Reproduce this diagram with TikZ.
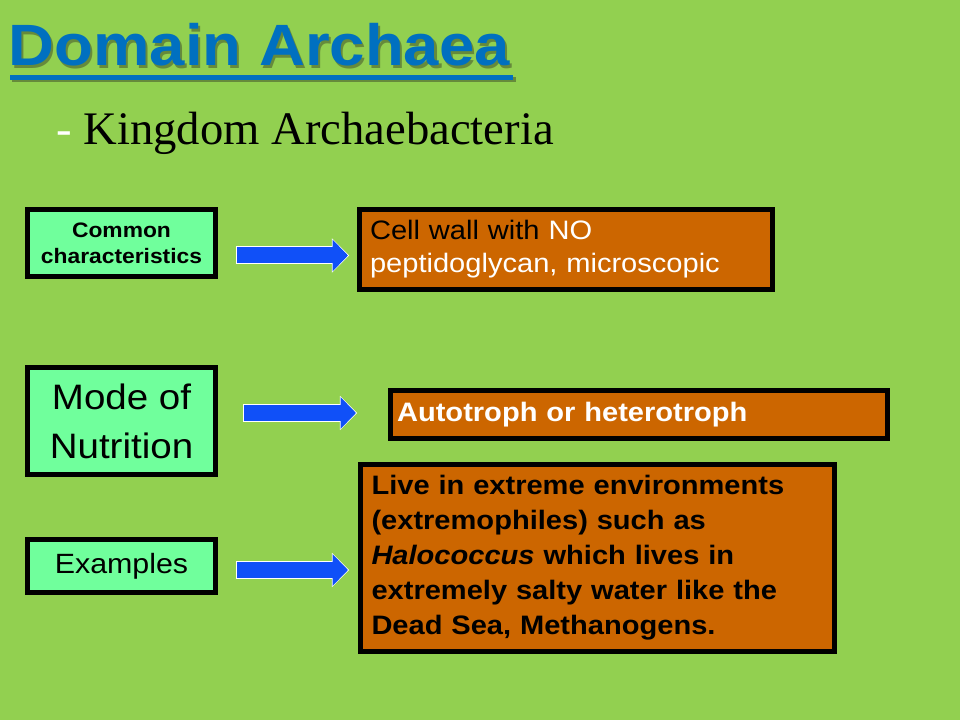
\documentclass[tikz,border=0pt]{standalone}
\usepackage{fontspec}
\usepackage{graphicx}
\setmainfont{Liberation Sans}[FakeStretch=1.09]
\newfontfamily\seriffont{Liberation Serif}
\usetikzlibrary{arrows.meta,calc}
\definecolor{bggreen}{RGB}{146,208,80}
\definecolor{boxgreen}{RGB}{112,255,156}
\definecolor{boxorange}{RGB}{204,102,0}
\definecolor{arrowblue}{RGB}{16,80,248}
\definecolor{titleblue}{RGB}{0,112,192}
\definecolor{shadowgray}{RGB}{60,70,40}
\begin{document}
\begin{tikzpicture}[x=0.75pt,y=-0.75pt,
  greenbox/.style={draw=black, line width=3.75pt, fill=boxgreen, inner sep=0pt,
    align=center, anchor=north west, text=black},
  orangebox/.style={draw=black, line width=3.75pt, fill=boxorange, inner ysep=0pt,
    align=left, anchor=north west},
  titletext/.style={inner sep=0pt, anchor=base west, text=titleblue,
    font=\fontsize{43.7pt}{50pt}\selectfont\bfseries},
  titleshadow/.style={inner sep=0pt, anchor=base west, text=shadowgray, opacity=0.5,
    font=\fontsize{43.7pt}{50pt}\selectfont\bfseries},
  arrowunder/.style={draw=white, line width=13.5pt,
    -{Triangle[length=13pt,width=25pt]}, shorten >=-0.9pt, shorten <=-0.75pt},
  arrowover/.style={draw=arrowblue, line width=12pt,
    -{Triangle[length=11.6pt,width=23.2pt]}}
]
\fill[bggreen] (0,0) rectangle (960,720);
\useasboundingbox (0,0) rectangle (960,720);

% title with shadow and underline
\node[titleshadow] (titlesh) at (10.6,68.2) {Domain Archaea};
\fill[shadowgray, opacity=0.5] ($(titlesh.base west)+(1.6,9)$) rectangle ($(titlesh.base east)+(3.3,14)$);
\node[titletext] (title) at (8.4,66) {Domain Archaea};
\fill[titleblue] ($(title.base west)+(1.6,9)$) rectangle ($(title.base east)+(3.3,14)$);

% subtitle
\node[inner sep=0pt, anchor=base west, font=\seriffont\fontsize{35pt}{40pt}\selectfont]
  (sub) at (56,145) {\textcolor{white}{-} Kingdom Archaebacteria};

% left boxes
\node[greenbox, minimum width=141pt, minimum height=50.25pt,
  font=\fontsize{15.7pt}{19.5pt}\selectfont\bfseries]
  (cc) at (25,207) {Common\\characteristics};
\node[greenbox, minimum width=141pt, minimum height=80.25pt,
  font=\fontsize{26.5pt}{36.75pt}\selectfont]
  (mode) at (25,365) {Mode of\\Nutrition};
\node[greenbox, minimum width=141pt, minimum height=39.75pt,
  font=\fontsize{20.9pt}{25pt}\selectfont]
  (ex) at (25,537) {Examples};

% right boxes
\node[orangebox, minimum width=309.75pt, minimum height=60pt, inner xsep=7.9pt,
  text width=293.9pt, text=white, font=\fontsize{20pt}{24.75pt}\selectfont]
  (cw) at (357,207) {\textcolor{black}{Cell wall with} NO\\peptidoglycan, microscopic};
\node[orangebox, minimum width=372.75pt, minimum height=36pt, inner xsep=4.9pt,
  text width=362.9pt, text=white, font=\fontsize{20pt}{24pt}\selectfont\bfseries]
  (auto) at (388,388) {Autotroph or heterotroph};
\node[orangebox, minimum width=355.5pt, minimum height=140.25pt, inner xsep=8.25pt,
  text width=339pt, text=black, font=\fontsize{20pt}{26.25pt}\selectfont\bfseries]
  (live) at (358,462) {Live in extreme environments\\(extremophiles) such as\\\textit{Halococcus} which lives in\\extremely salty water like the\\Dead Sea, Methanogens.};

% arrows
\coordinate (a1s) at ($(cc.east)+(19,12.5)$);
\coordinate (a1e) at ($(cw.west)+(-9,6)$);
\coordinate (a2s) at ($(mode.east)+(26,-8)$);
\coordinate (a2e) at ($(auto.west)+(-32,-1.5)$);
\coordinate (a3s) at ($(ex.east)+(19,4)$);
\coordinate (a3e) at ($(live.west)+(-10,12)$);
\draw[arrowunder] (a1s) -- (a1e);
\draw[arrowover] (a1s) -- (a1e);
\draw[arrowunder] (a2s) -- (a2e);
\draw[arrowover] (a2s) -- (a2e);
\draw[arrowunder] (a3s) -- (a3e);
\draw[arrowover] (a3s) -- (a3e);
\end{tikzpicture}
\end{document}
